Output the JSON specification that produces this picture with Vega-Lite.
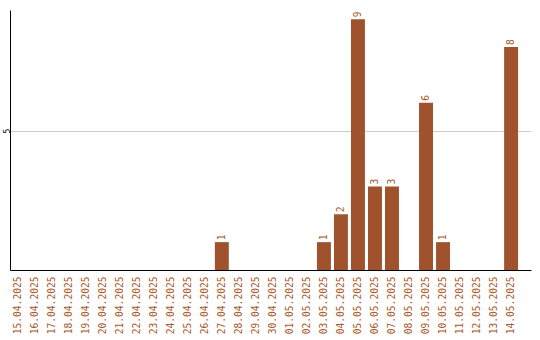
{
  "$schema": "https://vega.github.io/schema/vega-lite/v6.json",
  "width": 521,
  "height": 260,
  "autosize": "none",
  "padding": {"left": 10, "top": 10, "right": 9, "bottom": 70},
  "config": {"view": {"stroke": null}, "font": "DejaVu Sans Mono"},
  "data": {"values": [
    {"date": "15.04.2025", "n": 0},
    {"date": "16.04.2025", "n": 0},
    {"date": "17.04.2025", "n": 0},
    {"date": "18.04.2025", "n": 0},
    {"date": "19.04.2025", "n": 0},
    {"date": "20.04.2025", "n": 0},
    {"date": "21.04.2025", "n": 0},
    {"date": "22.04.2025", "n": 0},
    {"date": "23.04.2025", "n": 0},
    {"date": "24.04.2025", "n": 0},
    {"date": "25.04.2025", "n": 0},
    {"date": "26.04.2025", "n": 0},
    {"date": "27.04.2025", "n": 1},
    {"date": "28.04.2025", "n": 0},
    {"date": "29.04.2025", "n": 0},
    {"date": "30.04.2025", "n": 0},
    {"date": "01.05.2025", "n": 0},
    {"date": "02.05.2025", "n": 0},
    {"date": "03.05.2025", "n": 1},
    {"date": "04.05.2025", "n": 2},
    {"date": "05.05.2025", "n": 9},
    {"date": "06.05.2025", "n": 3},
    {"date": "07.05.2025", "n": 3},
    {"date": "08.05.2025", "n": 0},
    {"date": "09.05.2025", "n": 6},
    {"date": "10.05.2025", "n": 1},
    {"date": "11.05.2025", "n": 0},
    {"date": "12.05.2025", "n": 0},
    {"date": "13.05.2025", "n": 0},
    {"date": "14.05.2025", "n": 8}
  ]},
  "encoding": {
    "x": {
      "field": "date", "type": "nominal", "sort": null,
      "scale": {"paddingInner": 0.18, "paddingOuter": 0.4, "align": 0.05},
      "axis": {
        "title": null, "labelAngle": -90, "labelAlign": "right", "labelBaseline": "middle",
        "ticks": false, "labelPadding": 6, "labelColor": "#a9592a", "labelFontSize": 9.6,
        "labelFont": "DejaVu Sans Mono", "domainColor": "#000000", "domainWidth": 1, "grid": false
      }
    },
    "y": {
      "field": "n", "type": "quantitative",
      "scale": {"domain": [0, 9.33], "nice": false, "zero": true},
      "axis": {
        "title": null, "values": [5], "ticks": false, "labelAngle": -90, "labelAlign": "center",
        "labelBaseline": "middle", "labelPadding": 3, "labelFontSize": 8, "labelColor": "#000000",
        "domainColor": "#000000", "domainWidth": 1, "grid": true, "gridColor": "#cccccc", "gridWidth": 1
      }
    }
  },
  "layer": [
    {"mark": {"type": "bar", "color": "#a0522d"}},
    {
      "transform": [{"filter": "datum.n > 0"}],
      "mark": {"type": "text", "angle": -90, "align": "left", "baseline": "middle", "dx": 2,
               "color": "#a9592a", "fontSize": 9.6, "font": "DejaVu Sans Mono"},
      "encoding": {"text": {"field": "n", "type": "quantitative"}}
    }
  ]
}
